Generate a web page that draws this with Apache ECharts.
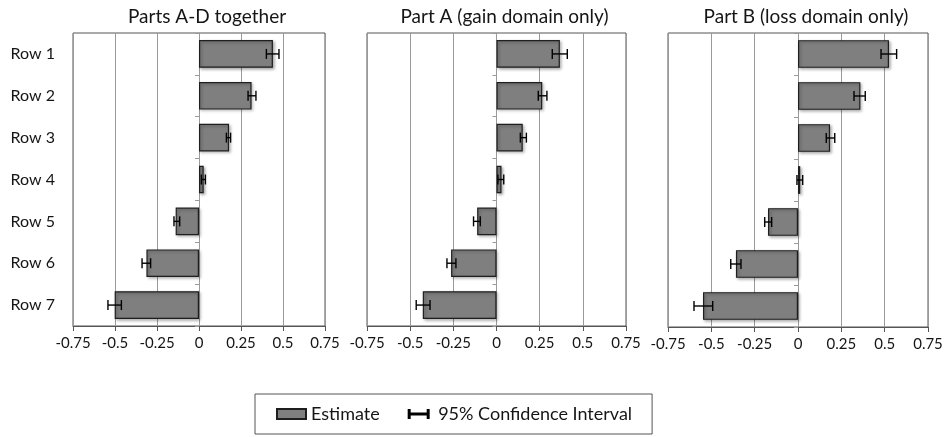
<!DOCTYPE html>
<html>
<head>
<meta charset="utf-8">
<script src="https://cdn.jsdelivr.net/npm/echarts@6/dist/echarts.min.js"></script>
<style>
  html, body { margin: 0; padding: 0; background: #fff; }
  #chart { width: 948px; height: 437px; }
</style>
</head>
<body>
<div id="chart"></div>
<script>
// row labels (top to bottom)
const rows = ['Row 1', 'Row 2', 'Row 3', 'Row 4', 'Row 5', 'Row 6', 'Row 7'];

// x ticks
const xMin = -0.75;
const xMax = 0.75;
const xStep = 0.25;

// panel titles
const panelTitles = ['Parts A-D together', 'Part A (gain domain only)', 'Part B (loss domain only)'];

// Parts A-D together
const estAll  = [0.44, 0.313, 0.179, 0.028, -0.139, -0.313, -0.502];
const lowAll  = [0.401, 0.292, 0.163, 0.014, -0.149, -0.339, -0.542];
const highAll = [0.476, 0.339, 0.188, 0.038, -0.115, -0.288, -0.462];

// Part A (gain)
const estGain  = [0.367, 0.265, 0.152, 0.029, -0.112, -0.263, -0.427];
const lowGain  = [0.323, 0.242, 0.138, 0.008, -0.133, -0.287, -0.465];
const highGain = [0.41, 0.292, 0.173, 0.042, -0.094, -0.235, -0.385];

// Part B (loss)
const estLoss  = [0.525, 0.36, 0.185, 0.013, -0.173, -0.358, -0.548];
const lowLoss  = [0.479, 0.323, 0.163, -0.006, -0.192, -0.388, -0.6];
const highLoss = [0.569, 0.388, 0.212, 0.027, -0.152, -0.329, -0.492];

const panels = [
  { est: estAll, low: lowAll, high: highAll },
  { est: estGain, low: lowGain, high: highGain },
  { est: estLoss, low: lowLoss, high: highLoss }
];

const grids = [
  { left: 73, top: 33, width: 252, height: 293 },
  { left: 367, top: 33, width: 259, height: 293 },
  { left: 668, top: 33, width: 260, height: 294 }
];

const FONT = 'Lato, "Open Sans", sans-serif';
const TXT = '#151515';

function errorBar(params, api) {
  const cat = api.value(0);
  const a = api.coord([api.value(1), cat]);
  const b = api.coord([api.value(2), cat]);
  const h = 5;
  const st = { stroke: '#000', lineWidth: 1.4, fill: null };
  return {
    type: 'group',
    children: [
      { type: 'line', shape: { x1: a[0], y1: a[1], x2: b[0], y2: b[1] }, style: st },
      { type: 'line', shape: { x1: a[0], y1: a[1] - h, x2: a[0], y2: a[1] + h }, style: st },
      { type: 'line', shape: { x1: b[0], y1: b[1] - h, x2: b[0], y2: b[1] + h }, style: st }
    ]
  };
}

const xAxes = [], yAxes = [], series = [], titles = [];

grids.forEach((g, i) => {
  xAxes.push({
    type: 'value', gridIndex: i,
    min: xMin, max: xMax, interval: xStep,
    axisLine: { show: true, lineStyle: { color: '#555', width: 1 } },
    axisTick: { show: true, length: 5, lineStyle: { color: '#555' } },
    axisLabel: { color: TXT, fontSize: 15, fontFamily: FONT, margin: 10 },
    splitLine: { show: true, lineStyle: { color: '#9a9a9a', width: 1 } }
  });
  // label axis on the left
  yAxes.push({
    type: 'category', gridIndex: i, data: rows, inverse: true,
    axisLine: { show: false, onZero: false },
    axisTick: { show: false },
    axisLabel: { show: i === 0, color: TXT, fontSize: 16, fontFamily: FONT, margin: 18 }
  });
  // tick axis sitting on zero
  yAxes.push({
    type: 'category', gridIndex: i, data: rows, inverse: true, position: 'left',
    axisLine: { show: true, onZero: true, lineStyle: { color: '#9a9a9a' } },
    axisTick: { show: true, length: 4, lineStyle: { color: '#9a9a9a' } },
    axisLabel: { show: false }
  });

  const p = panels[i];
  series.push({
    name: 'Estimate', type: 'bar', xAxisIndex: i, yAxisIndex: i * 2,
    data: p.est, barWidth: '66%',
    itemStyle: {
      color: '#7f7f7f', borderColor: '#1e1e1e', borderWidth: 1.2,
      shadowColor: 'rgba(0,0,0,0.3)', shadowBlur: 3, shadowOffsetX: 1.5, shadowOffsetY: 1.5
    },
    silent: true, z: 2
  });
  series.push({
    name: '95% Confidence Interval', type: 'custom', xAxisIndex: i, yAxisIndex: i * 2,
    data: rows.map((r, k) => [k, p.low[k], p.high[k]]),
    encode: { y: 0, x: [1, 2] },
    renderItem: errorBar,
    itemStyle: { color: '#000' },
    silent: true, z: 3
  });
  titles.push({
    type: 'text',
    x: g.left + g.width / 2 + 8, y: 17,
    style: { text: panelTitles[i], fill: TXT, font: '19px ' + FONT, align: 'center', verticalAlign: 'middle' }
  });
});

const chart = echarts.init(document.getElementById('chart'), null, { renderer: 'canvas' });
chart.setOption({
  backgroundColor: '#fff',
  animation: false,
  grid: grids.map(g => Object.assign({ show: true, borderColor: '#555', borderWidth: 1, backgroundColor: 'transparent' }, g)),
  xAxis: xAxes,
  yAxis: yAxes,
  series: series,
  legend: {
    left: 255, top: 394,
    orient: 'horizontal',
    padding: [11, 20, 11, 21],
    itemGap: 28, itemWidth: 29, itemHeight: 10,
    borderColor: '#555', borderWidth: 1,
    selectedMode: false,
    textStyle: { color: TXT, fontSize: 18, fontFamily: FONT },
    data: [
      { name: 'Estimate', icon: 'rect' },
      { name: '95% Confidence Interval', icon: 'path://M0,0 L3,0 L3,3.5 L19,3.5 L19,0 L22,0 L22,10 L19,10 L19,6.5 L3,6.5 L3,10 L0,10 Z' }
    ]
  },
  graphic: titles
});
</script>
</body>
</html>
